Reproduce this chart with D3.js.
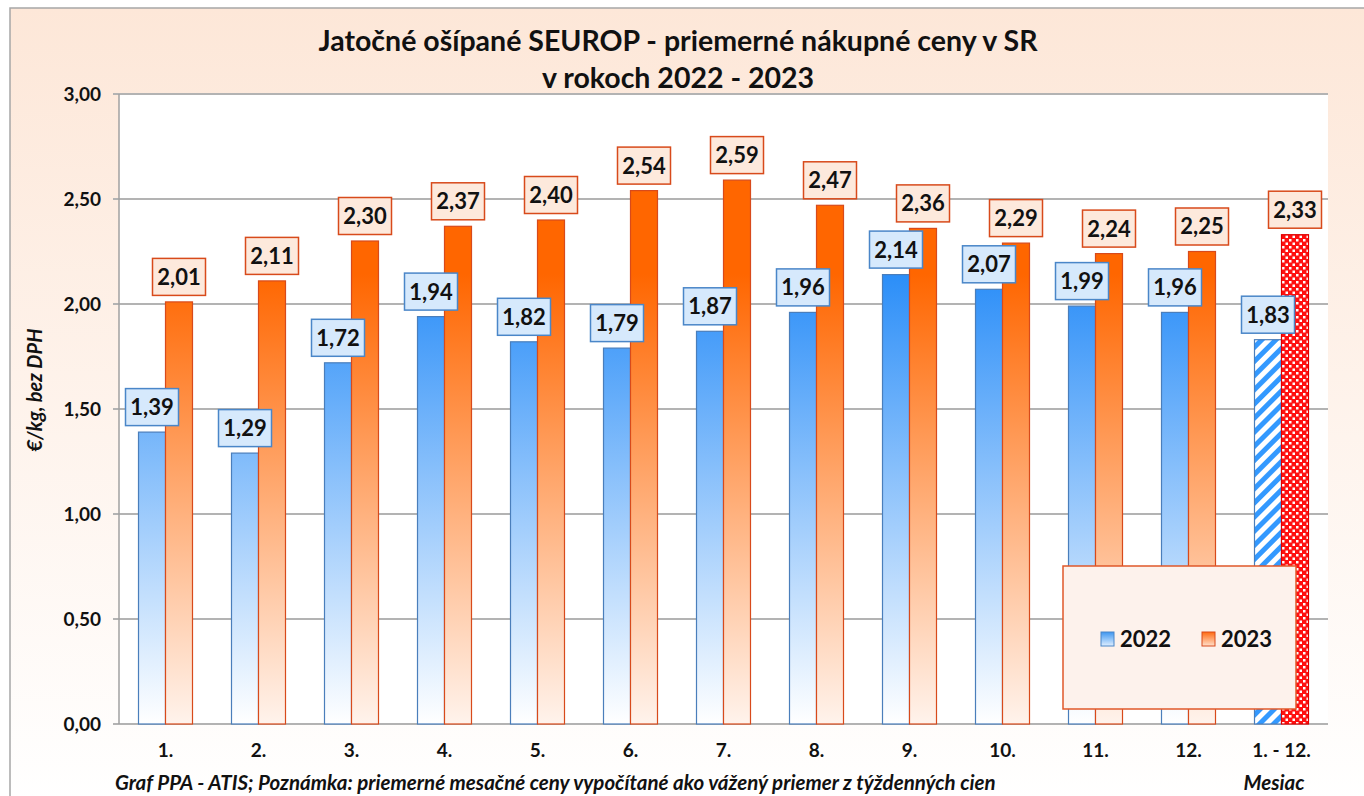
<!DOCTYPE html>
<html lang="sk">
<head>
<meta charset="UTF-8">
<title>Jatočné ošípané SEUROP</title>
<script src="https://d3js.org/d3.v7.min.js"></script>
<style>
  body { margin: 0; background: #fff; }
  text { font-family: Lato, "Open Sans", sans-serif; font-weight: bold; fill: #111; }
</style>
</head>
<body>
<script>
  // data
  const months = ["1.", "2.", "3.", "4.", "5.", "6.", "7.", "8.", "9.", "10.", "11.", "12.", "1. - 12."];
  const years = ["2022", "2023"];
  const values2022 = [1.39, 1.29, 1.72, 1.94, 1.82, 1.79, 1.87, 1.96, 2.14, 2.07, 1.99, 1.96, 1.83];
  const values2023 = [2.01, 2.11, 2.30, 2.37, 2.40, 2.54, 2.59, 2.47, 2.36, 2.29, 2.24, 2.25, 2.33];
  const yTicks = [0, 0.5, 1, 1.5, 2, 2.5, 3];

  const width = 1364, height = 796;
  const plot = {left: 119, right: 1328, top: 94, bottom: 724};
  const fmt = v => d3.format(".2f")(v).replace(".", ",");

  const svg = d3.select("body").append("svg")
      .attr("width", width).attr("height", height);
  const defs = svg.append("defs");

  function vGrad(id, top, bottom) {
    const g = defs.append("linearGradient").attr("id", id)
        .attr("x1", 0).attr("y1", 0).attr("x2", 0).attr("y2", 1);
    g.append("stop").attr("offset", "0%").attr("stop-color", top);
    g.append("stop").attr("offset", "100%").attr("stop-color", bottom);
  }
  vGrad("bg", "#fde7d8", "#ffffff");
  // bar gradients span the plot height, so fill is by absolute position
  function barGrad(id, top, bottom) {
    const g = defs.append("linearGradient").attr("id", id)
        .attr("gradientUnits", "userSpaceOnUse")
        .attr("x1", 0).attr("y1", plot.top + 180).attr("x2", 0).attr("y2", plot.bottom);
    g.append("stop").attr("offset", "0%").attr("stop-color", top);
    g.append("stop").attr("offset", "100%").attr("stop-color", bottom);
  }
  barGrad("blueBar", "#2b8ef8", "#ffffff");
  barGrad("orangeBar", "#ff6600", "#fff3ec");
  vGrad("blueKey", "#3d96f0", "#e0efff");
  vGrad("orangeKey", "#ff6a10", "#ffe0cc");

  const hatch = defs.append("pattern").attr("id", "hatch")
      .attr("patternUnits", "userSpaceOnUse").attr("width", 10).attr("height", 10)
      .attr("patternTransform", "rotate(45)");
  hatch.append("rect").attr("width", 10).attr("height", 10).attr("fill", "#fff");
  hatch.append("rect").attr("width", 5).attr("height", 10).attr("fill", "#3399ff");

  const check = defs.append("pattern").attr("id", "check")
      .attr("patternUnits", "userSpaceOnUse").attr("width", 7).attr("height", 7);
  check.append("rect").attr("width", 7).attr("height", 7).attr("fill", "#ff1010");
  check.append("rect").attr("x", 1).attr("y", 1).attr("width", 2.5).attr("height", 2.5).attr("fill", "#fff");
  check.append("rect").attr("x", 4.5).attr("y", 4.5).attr("width", 2.5).attr("height", 2.5).attr("fill", "#fff");

  // chart area
  svg.append("rect").attr("x", 10).attr("y", 8).attr("width", width).attr("height", height)
      .attr("fill", "url(#bg)").attr("stroke", "#a6a6a6").attr("stroke-width", 1.5);

  svg.append("rect").attr("x", plot.left).attr("y", plot.top)
      .attr("width", plot.right - plot.left).attr("height", plot.bottom - plot.top)
      .attr("fill", "#fff");

  const x = d3.scaleBand().domain(months).range([plot.left, plot.right]);
  const xs = d3.scaleBand().domain(years).range([x.bandwidth() / 2 - 27, x.bandwidth() / 2 + 27]);
  const y = d3.scaleLinear().domain([0, 3]).range([plot.bottom, plot.top]);

  // grid
  svg.append("g").selectAll("line").data(yTicks).join("line")
      .attr("x1", plot.left - 6).attr("x2", plot.right)
      .attr("y1", d => y(d)).attr("y2", d => y(d))
      .attr("stroke", "#b3b3b3").attr("stroke-width", 2);
  svg.append("line").attr("x1", plot.left).attr("x2", plot.left)
      .attr("y1", plot.top).attr("y2", plot.bottom)
      .attr("stroke", "#a0a0a0").attr("stroke-width", 1.5);

  svg.append("g").selectAll("text").data(yTicks).join("text")
      .attr("x", 101).attr("y", d => y(d)).attr("dy", "0.35em")
      .attr("text-anchor", "end").attr("font-size", 19)
      .text(fmt);

  svg.append("g").selectAll("text").data(months).join("text")
      .attr("x", d => x(d) + x.bandwidth() / 2).attr("y", 757)
      .attr("text-anchor", "middle").attr("font-size", 19)
      .text(d => d);

  const rows = months.map((m, i) => ({m, i, v22: values2022[i], v23: values2023[i]}));
  const last = months.length - 1;

  const bars = svg.append("g");
  bars.selectAll("rect.b22").data(rows).join("rect").attr("class", "b22")
      .attr("x", d => x(d.m) + xs("2022")).attr("width", xs.bandwidth())
      .attr("y", d => y(d.v22)).attr("height", d => y(0) - y(d.v22))
      .attr("fill", d => d.i === last ? "url(#hatch)" : "url(#blueBar)")
      .attr("stroke", "#4a7ebb").attr("stroke-width", 1.2);
  bars.selectAll("rect.b23").data(rows).join("rect").attr("class", "b23")
      .attr("x", d => x(d.m) + xs("2023")).attr("width", xs.bandwidth())
      .attr("y", d => y(d.v23)).attr("height", d => y(0) - y(d.v23))
      .attr("fill", d => d.i === last ? "url(#check)" : "url(#orangeBar)")
      .attr("stroke", d => d.i === last ? "#e00000" : "#d84a1b").attr("stroke-width", 1.2);

  // value labels
  function labels(key, year, fill, stroke) {
    const g = svg.append("g").selectAll("g").data(rows).join("g")
        .attr("transform", d => `translate(${x(d.m) + xs(year) + xs.bandwidth() / 2},${y(d[key]) - 25})`);
    g.append("rect").attr("x", -26.5).attr("y", -18.5).attr("width", 53).attr("height", 37)
        .attr("fill", fill).attr("stroke", stroke).attr("stroke-width", 1.5);
    g.append("text").attr("text-anchor", "middle").attr("dy", "0.36em")
        .attr("font-size", 22).text(d => fmt(d[key]));
  }
  labels("v22", "2022", "#d6e9fc", "#4a86c8");
  labels("v23", "2023", "#fde9dc", "#d84a1b");

  // legend
  const lg = svg.append("g").attr("transform", "translate(1063,566)");
  lg.append("rect").attr("width", 233).attr("height", 143)
      .attr("fill", "#fdf2ec").attr("stroke", "#e0582a").attr("stroke-width", 1.5);
  const keys = [{t: "2022", f: "url(#blueKey)", s: "#4a86c8", x: 38}, {t: "2023", f: "url(#orangeKey)", s: "#d84a1b", x: 139}];
  const li = lg.selectAll("g").data(keys).join("g").attr("transform", d => `translate(${d.x},66)`);
  li.append("rect").attr("width", 13).attr("height", 14).attr("fill", d => d.f).attr("stroke", d => d.s);
  li.append("text").attr("x", 19).attr("y", 7).attr("dy", "0.36em").attr("font-size", 22).text(d => d.t);

  // titles
  svg.append("text").attr("x", 678).attr("y", 51).attr("text-anchor", "middle")
      .attr("font-size", 28.5).text("Jatočné ošípané SEUROP - priemerné nákupné ceny v SR");
  svg.append("text").attr("x", 678).attr("y", 88).attr("text-anchor", "middle")
      .attr("font-size", 28.5).text("v rokoch 2022 - 2023");

  svg.append("text").attr("transform", "translate(42,390) rotate(-90)")
      .attr("text-anchor", "middle").attr("font-size", 20).attr("font-style", "italic")
      .text("€/kg, bez DPH");
  svg.append("text").attr("x", 115).attr("y", 790).attr("font-size", 20.5).attr("font-style", "italic")
      .text("Graf PPA - ATIS; Poznámka: priemerné mesačné ceny vypočítané ako vážený priemer z týždenných cien");
  svg.append("text").attr("x", 1274).attr("y", 790).attr("text-anchor", "middle")
      .attr("font-size", 20.5).attr("font-style", "italic").text("Mesiac");
</script>
</body>
</html>
